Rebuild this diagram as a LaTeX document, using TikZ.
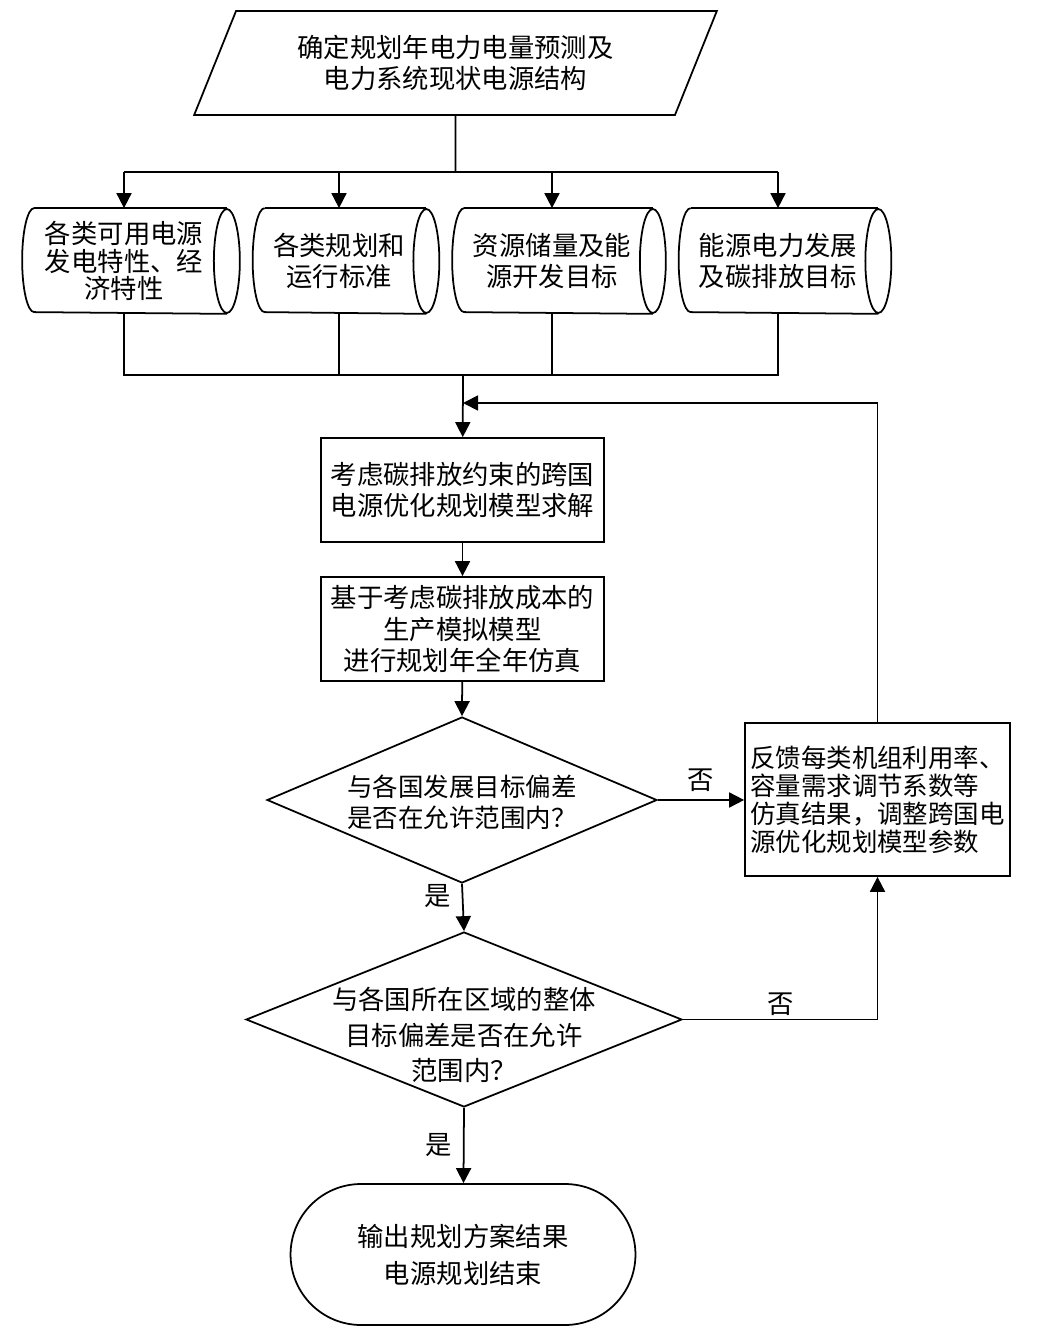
\documentclass[tikz,border=0pt]{standalone}
\usepackage{fontspec}
\setmainfont{Noto Sans CJK SC}
\usepackage{tikz}
\usetikzlibrary{shapes.geometric,shapes.misc,arrows.meta}
\tikzset{% 
  flow/.style = {
    x=0.02cm, y=-0.02cm,
    line width=1pt,
    every node/.style = {align=center, inner sep=2pt,
      font=\fontsize{15pt}{18pt}\selectfont},
    arr/.style = {draw,-{Triangle[length=0.3cm,width=0.3cm]}}
  },
  io/.style = {draw, trapezium, trapezium left angle=64,
    trapezium right angle=116, trapezium stretches=true,
    minimum width=10.46cm, minimum height=2.08cm},
  store/.style = {rectangle, inner sep=0pt, minimum height=2.08cm},
  proc/.style = {draw, rectangle, minimum width=5.66cm, minimum height=2.08cm},
  decision/.style = {draw, diamond},
  endbox/.style = {draw, rounded rectangle, minimum width=7.04cm,
    minimum height=2.82cm},
  lab/.style = {inner sep=1pt}
}
\newcommand{\storeoutline}[1]{%
  \draw (#1.north west) arc[start angle=90, end angle=270,
    x radius=0.24cm, y radius=1.04cm] -- ([xshift=0.26cm]#1.south east);
  \draw (#1.north west) -- ([xshift=0.26cm]#1.north east);
  \draw ([xshift=0.26cm]#1.east) ellipse[x radius=0.26cm, y radius=1.04cm];
}

\begin{document}
\begin{tikzpicture}[flow]
	\useasboundingbox (0,0) rectangle (1042,1335);
	\node[io] (start) at (455.5,63) {确定规划年电力电量预测及\\电力系统现状电源结构};
	\node[store, minimum width=3.56cm,
	  font=\fontsize{15pt}{15.8pt}\selectfont] (d1) at (124,261)
	  {各类可用电源\\发电特性、经\\济特性};
	\node[store, minimum width=2.94cm] (d2) at (339,261) {各类规划和\\运行标准};
	\node[store, minimum width=3.48cm] (d3) at (552,261) {资源储量及能\\源开发目标};
	\node[store, minimum width=3.46cm] (d4) at (778,261) {能源电力发展\\及碳排放目标};
	\storeoutline{d1}
	\storeoutline{d2}
	\storeoutline{d3}
	\storeoutline{d4}
	\node[proc] (solve) at (462.5,490) {考虑碳排放约束的跨国\\电源优化规划模型求解};
	\node[proc] (sim) at (462.5,629)
	  {基于考虑碳排放成本的\\生产模拟模型\\进行规划年全年仿真};
	\node[decision, minimum width=7.8cm, minimum height=3.32cm] (q1) at (462,800) {};
	\node[font=\fontsize{14.5pt}{17.6pt}\selectfont] (q1t) at ([yshift=-0.04cm]q1)
	  {与各国发展目标偏差\\是否在允许范围内？};
	\node[draw, rectangle, align=left, minimum width=5.3cm, minimum height=3.06cm,
	  font=\fontsize{14.5pt}{16pt}\selectfont] (fb) at (877.5,799.5)
	  {反馈每类机组利用率、\\容量需求调节系数等\\仿真结果，调整跨国电\\源优化规划模型参数};
	\node[decision, minimum width=8.72cm, minimum height=3.5cm] (q2) at (464,1019.5) {};
	\node[font=\fontsize{15pt}{20pt}\selectfont] (q2t) at ([yshift=-0.31cm]q2)
	  {与各国所在区域的整体\\目标偏差是否在允许\\范围内？};
	\node[endbox, font=\fontsize{15pt}{21pt}\selectfont] (finish) at (463,1254.5)
	  {输出规划方案结果\\电源规划结束};

	\coordinate (split) at (455.5,172);
	\coordinate (merge) at (463,375);
	\coordinate (back) at (463,403);

	% inputs
	\draw (start.south) -- (split);
	\draw (split -| d1) -- (split -| d4);
	\draw[arr] (split -| d1) -- (d1);
	\draw[arr] (split -| d2) -- (d2);
	\draw[arr] (split -| d3) -- (d3);
	\draw[arr] (split -| d4) -- (d4);
	\draw (d1.south) |- (merge);
	\draw (d4.south) |- (merge);
	\draw (d2.south) -- (d2.south |- merge);
	\draw (d3.south) -- (d3.south |- merge);
	% main column
	\draw[arr] (merge) -- (solve);
	\draw[arr] (solve) -- (sim);
	\draw[arr] (sim) -- (q1.north);
	\draw[arr] (q1.south) -- node[lab, left=5pt, pos=0.25] {是} (q2.north);
	\draw[arr] (q2.south) -- node[lab, left=5pt] {是} (finish);
	% feedback loop
	\draw[arr] (q1.east) -- node[lab, above=3pt] {否} (q1.east -| fb.west);
	\draw[arr] (q2.east) -- node[lab, above=1pt] {否} (q2.east -| fb.south) -- (fb.south);
	\draw[arr] (fb.north) |- (back);
\end{tikzpicture}
\end{document}
